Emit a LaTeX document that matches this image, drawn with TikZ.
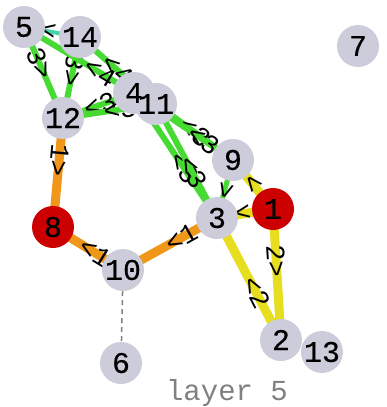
\documentclass[tikz,border=0pt]{standalone}
\usepackage{fontspec}
\newfontfamily\monofont{Liberation Mono}
\newfontfamily\monobold[FakeBold=0.4]{Liberation Mono}
\usepackage{tikz}
\usetikzlibrary{positioning}
\usepackage{xcolor}
\definecolor{vgreen}{RGB}{70,218,50}
\definecolor{vteal}{RGB}{64,212,170}
\definecolor{vyellow}{RGB}{230,222,30}
\definecolor{vorange}{RGB}{240,150,25}
\definecolor{nodegray}{RGB}{204,204,218}
\definecolor{hotred}{RGB}{204,0,0}
\definecolor{muted}{RGB}{128,128,128}
\pgfdeclarelayer{edges}
\pgfsetlayers{edges,main}

\begin{document}
\begin{tikzpicture}[x=1pt, y=-1pt,
  vtx/.style={circle, fill=nodegray, minimum size=42pt, inner sep=0pt},
  hot/.style={vtx, fill=hotred},
  vlab/.style={font=\monobold\fontsize{30}{30}\selectfont},
  elab/.style={sloped, allow upside down, inner sep=0pt, font=\monofont\fontsize{27}{27}\selectfont},
  gr/.style={draw=vgreen, line width=6pt},
  yl/.style={draw=vyellow, line width=9pt},
  og/.style={draw=vorange, line width=9pt}]
  \useasboundingbox (0,0) rectangle (387,407);
  % vertices
  \foreach \n/\x/\y in {5/24/27, 14/80/37, 7/358/46, 4/134/93, 11/156/104,
      12/63/118, 9/233/160, 3/217/218, 10/123/270, 2/281/340, 13/322/352, 6/121/363}
    \node[vtx] (n\n) at (\x,\y) {};
  \node[hot] (n1) at (273,209) {};
  \node[hot] (n8) at (53,227) {};
  \foreach \n in {1,...,14}
    \node[vlab] at (n\n) {\n};
  % edges
  \begin{pgfonlayer}{edges}
    \draw[draw=vteal, line width=4pt] (n5.center) -- node[elab, pos=.43] {<} (n14.center);
    \draw[gr] (n5.center) -- node[elab, pos=.4] {3>} (n12.center);
    \draw[gr] (n14.center) -- node[elab, pos=.41] {3>} (n12.center);
    \draw[gr] (n5.center) -- node[elab, pos=.69] {<4} (n4.center);
    \draw[gr] (n14.center) -- node[elab, pos=.49] {<4} (n11.center);
    \draw[gr] (n12.center) -- node[elab, pos=.52] {<3} (n4.center);
    \draw[gr] (n12.center) -- node[elab, pos=.61] {<3} (n11.center);
    \draw[gr] (n4.center) -- node[elab, pos=.6] {<3} (n3.center);
    \draw[gr] (n11.center) -- node[elab, pos=.6] {<3} (n3.center);
    \draw[gr] (n11.center) -- node[elab, pos=.5] {<3} (n9.center);
    \draw[gr] (n4.center) -- node[elab, pos=.7] {<3} (n9.center);
    \draw[gr, line width=5pt] (n9.center) -- node[elab, pos=.52] {>} (n3.center);
    % yellow
    \draw[yl] (n9.center) -- node[elab, pos=.48] {<} (n1.center);
    \draw[yl] (n3.center) -- node[elab, pos=.46] {<} (n1.center);
    \draw[yl] (n1.center) -- node[elab, pos=.4] {2>} (n2.center);
    \draw[yl] (n3.center) -- node[elab, pos=.61] {<2} (n2.center);
    % orange
    \draw[og] (n12.center) -- node[elab, pos=.39] {1>} (n8.center);
    \draw[og] (n10.center) -- node[elab, pos=.62] {<1} (n3.center);
    \draw[og] (n8.center) -- node[elab, pos=.6] {<1} (n10.center);
    \draw[muted, line width=1.5pt, dash pattern=on 5pt off 4pt] (n10) -- (n6);
  \end{pgfonlayer}
  \node[font=\monofont\fontsize{29}{29}\selectfont, text=muted] (title) at (227,393) {layer 5};
\end{tikzpicture}
\end{document}
